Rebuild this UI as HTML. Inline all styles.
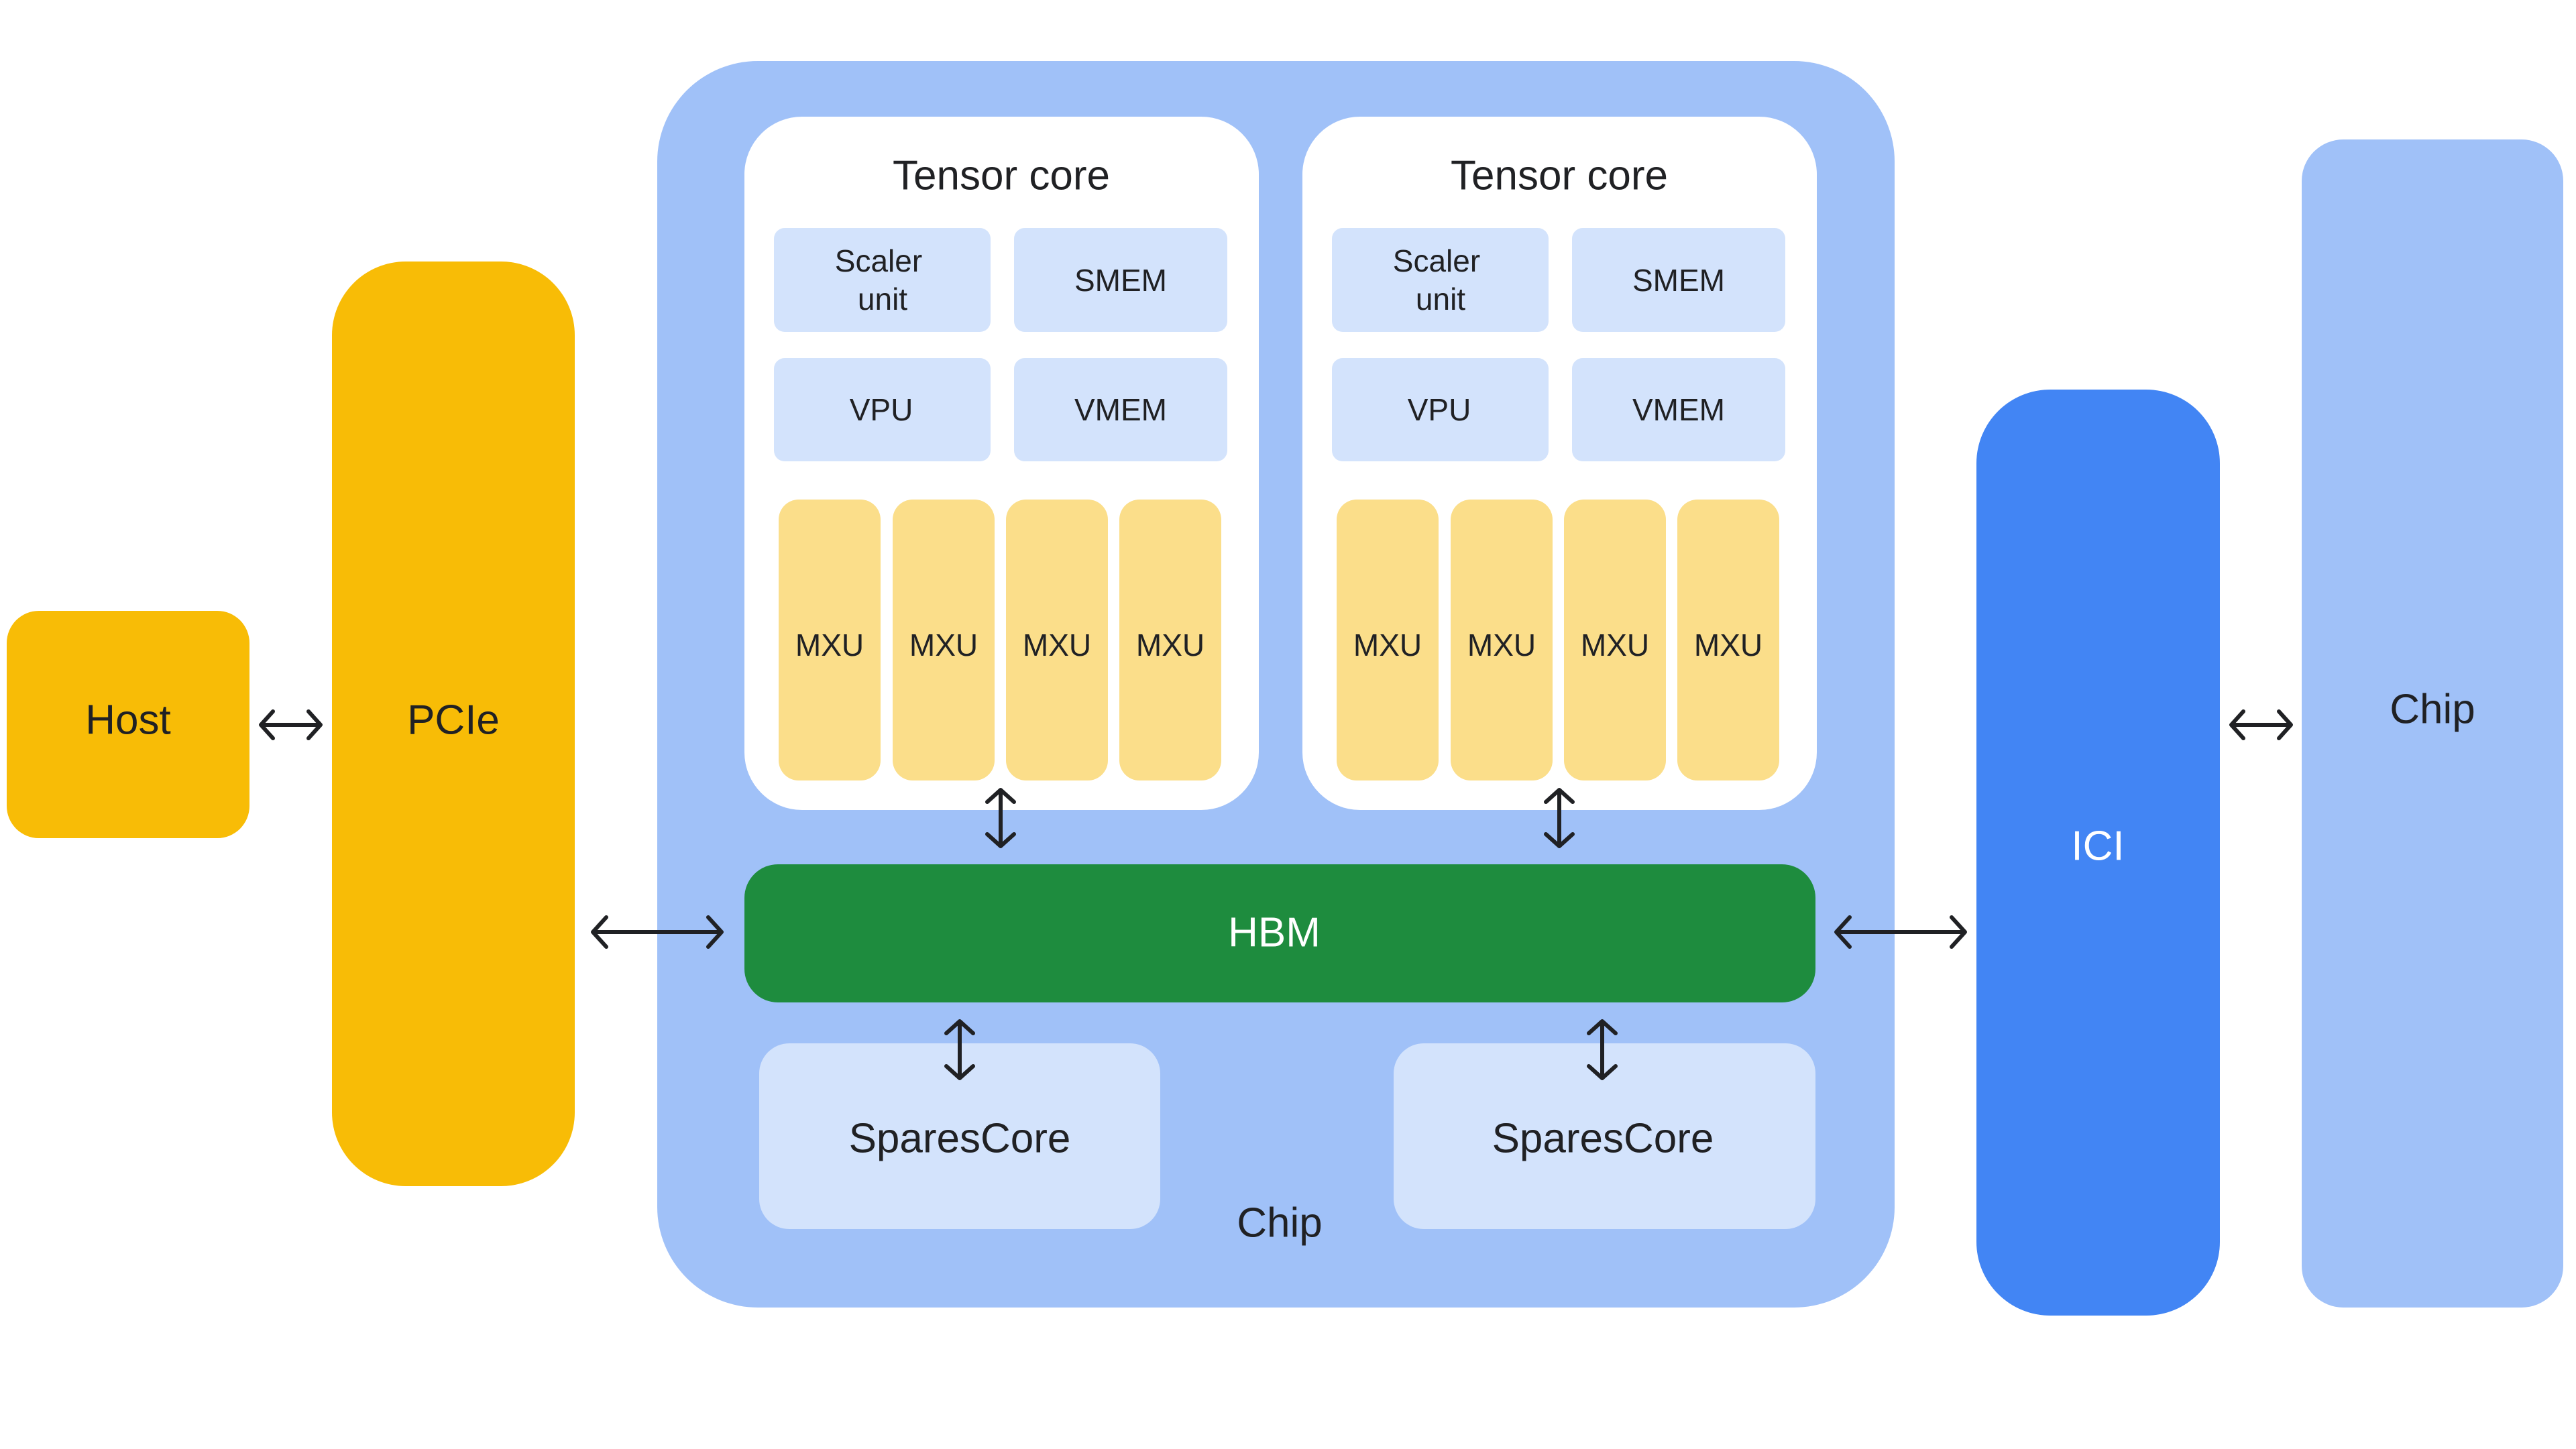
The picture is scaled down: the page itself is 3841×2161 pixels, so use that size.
<!DOCTYPE html>
<html><head><meta charset="utf-8"><style>
html,body{margin:0;padding:0;background:#fff}
svg{display:block}
text{font-family:"Liberation Sans",sans-serif;fill:#202124;text-anchor:middle;dominant-baseline:central}
</style></head><body>
<svg width="3841" height="2161" viewBox="0 0 3841 2161" xmlns="http://www.w3.org/2000/svg">
<rect x="10" y="911" width="362" height="339" rx="48" fill="#f8bc06"/>
<text x="191" y="1074" font-size="62">Host</text>
<rect x="495" y="390" width="362" height="1379" rx="110" fill="#f8bc06"/>
<text x="676" y="1074" font-size="62">PCIe</text>
<rect x="980" y="91" width="1845" height="1859" rx="150" fill="#a0c1f8"/>
<text x="1908" y="1824" font-size="62">Chip</text>
<g id="tc">
<rect x="1110" y="174" width="767" height="1034" rx="86" fill="#fff"/>
<text x="1493" y="262" font-size="62">Tensor core</text>
<rect x="1154" y="340" width="323" height="155" rx="16" fill="#d3e3fc"/>
<text x="1310" y="389" font-size="46">Scaler</text>
<text x="1316" y="446" font-size="46">unit</text>
<rect x="1512" y="340" width="318" height="155" rx="16" fill="#d3e3fc"/>
<text x="1671" y="418" font-size="46">SMEM</text>
<rect x="1154" y="534" width="323" height="154" rx="16" fill="#d3e3fc"/>
<text x="1314" y="611" font-size="46">VPU</text>
<rect x="1512" y="534" width="318" height="154" rx="16" fill="#d3e3fc"/>
<text x="1671" y="611" font-size="46">VMEM</text>
<rect x="1161" y="745" width="152" height="419" rx="30" fill="#fbde8a"/>
<rect x="1331" y="745" width="152" height="419" rx="30" fill="#fbde8a"/>
<rect x="1500" y="745" width="152" height="419" rx="30" fill="#fbde8a"/>
<rect x="1669" y="745" width="152" height="419" rx="30" fill="#fbde8a"/>
<text x="1237" y="962" font-size="46">MXU</text>
<text x="1407" y="962" font-size="46">MXU</text>
<text x="1576" y="962" font-size="46">MXU</text>
<text x="1745" y="962" font-size="46">MXU</text>
</g>
<use href="#tc" x="832"/>
<rect x="1110" y="1289" width="1597" height="206" rx="50" fill="#1e8c3e"/>
<text x="1900" y="1391" font-size="62" style="fill:#fff">HBM</text>
<rect x="1132" y="1556" width="598" height="277" rx="45" fill="#d3e3fc"/>
<text x="1431" y="1698" font-size="62">SparesCore</text>
<rect x="2078" y="1556" width="629" height="277" rx="45" fill="#d3e3fc"/>
<text x="2390" y="1698" font-size="62">SparesCore</text>
<rect x="2947" y="581" width="363" height="1381" rx="110" fill="#4285f4"/>
<text x="3128" y="1262" font-size="62" style="fill:#fff">ICI</text>
<rect x="3432" y="208" width="390" height="1742" rx="62" fill="#a0c1f8"/>
<text x="3627" y="1058" font-size="62">Chip</text>
<g stroke="#202124" stroke-width="6" fill="none" stroke-linecap="round" stroke-linejoin="round">
<path d="M389,1081 H478 M407,1061 L389,1081 L407,1101 M460,1061 L478,1081 L460,1101"/>
<path d="M884,1390 H1076 M904,1368 L884,1390 L904,1412 M1056,1368 L1076,1390 L1056,1412"/>
<path d="M2738,1390 H2930 M2758,1368 L2738,1390 L2758,1412 M2910,1368 L2930,1390 L2910,1412"/>
<path d="M3327,1081 H3416 M3345,1061 L3327,1081 L3345,1101 M3398,1061 L3416,1081 L3398,1101"/>
<path d="M1492,1178 V1262 M1472,1196 L1492,1178 L1512,1196 M1472,1244 L1492,1262 L1512,1244"/>
<path d="M2325,1178 V1262 M2305,1196 L2325,1178 L2345,1196 M2305,1244 L2325,1262 L2345,1244"/>
<path d="M1431,1523 V1608 M1411,1541 L1431,1523 L1451,1541 M1411,1590 L1431,1608 L1451,1590"/>
<path d="M2389,1523 V1608 M2369,1541 L2389,1523 L2409,1541 M2369,1590 L2389,1608 L2409,1590"/>
</g>
</svg>
</body></html>
